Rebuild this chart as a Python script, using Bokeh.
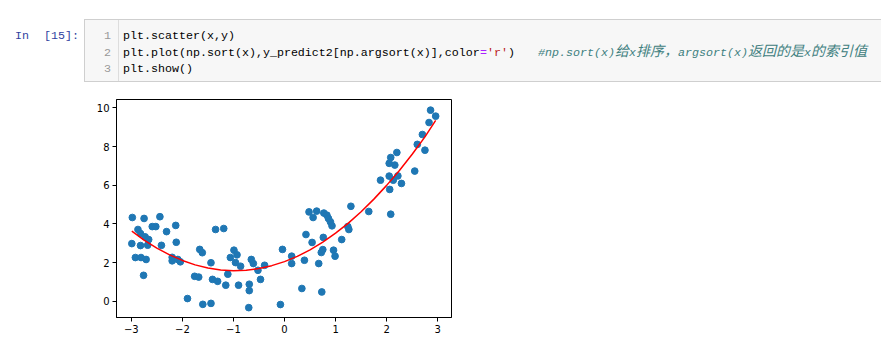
from bokeh.plotting import figure
from bokeh.layouts import column
from bokeh.models import Range1d, FixedTicker, Div
from bokeh.embed import file_html
from bokeh.resources import INLINE
from html import escape

# ---- data ----
x_vals = [-2.98, -2.75, -2.44, -2.87, -2.82, -2.59, -2.52, -2.31, -2.13, -2.99,
          -2.82, -2.73, -2.66, -2.68, -2.41, -2.12, -2.92, -2.81, -2.71, -2.76,
          -2.20, -2.20, -2.09, -2.04, -1.90, -1.76, -1.68, -1.66, -1.61, -1.60,
          -1.44, -1.44, -1.41, -1.31, -1.35, -1.19, -1.15, -1.11, -1.06, -0.99,
          -0.93, -0.96, -0.86, -0.90, -0.69, -0.69, -0.70, -0.65, -0.61, -0.52,
          -0.47, -0.39, -0.04, -0.08, 0.14, 0.14, 0.39, 0.34, 0.42, 0.48,
          0.56, 0.63, 0.54, 0.76, 0.73, 0.67, 0.72, 0.75, 0.77, 0.83,
          0.86, 0.90, 0.93, 0.96, 0.99, 1.12, 1.24, 1.26, 1.30, 1.65,
          1.88, 2.08, 2.05, 2.08, 2.20, 2.16, 2.05, 2.22, 2.13, 2.29,
          2.06, 2.55, 2.60, 2.75, 2.70, 2.83, 2.86, 2.96]
y_vals = [4.33, 4.28, 4.37, 3.71, 3.50, 3.86, 3.86, 3.60, 3.92, 2.98,
          2.88, 3.33, 3.19, 2.90, 2.89, 3.05, 2.26, 2.26, 2.16, 1.34,
          2.27, 2.09, 2.16, 2.04, 0.14, 1.29, 1.25, 2.68, 2.51, -0.16,
          1.99, -0.11, 1.13, 1.03, 3.71, 3.76, 0.83, 1.40, 2.26, 2.64,
          2.40, 2.00, 1.81, 0.83, 0.88, 0.55, -0.33, 2.16, 1.95, 1.60,
          1.13, 1.86, 2.68, -0.17, 2.33, 1.95, 2.12, 0.66, 3.45, 4.62,
          4.33, 4.66, 3.04, 3.30, 0.48, 1.95, 2.52, 2.67, 4.56, 4.45,
          4.28, 4.10, 3.90, 2.64, 2.33, 3.19, 3.86, 3.71, 4.91, 4.64,
          6.26, 4.50, 7.13, 7.43, 7.69, 7.04, 6.47, 6.48, 6.26, 6.09,
          5.78, 6.73, 8.11, 7.81, 8.62, 9.24, 9.88, 9.57]

curve_x = [-2.99, -2.75, -2.5, -2.25, -2.0, -1.75, -1.5, -1.25, -1.0, -0.75,
           -0.5, -0.25, 0.0, 0.25, 0.5, 0.75, 1.0, 1.25, 1.5, 1.75,
           2.0, 2.25, 2.5, 2.75, 2.96]
curve_y = [3.62, 3.16, 2.75, 2.40, 2.11, 1.88, 1.72, 1.62, 1.58, 1.60,
           1.69, 1.84, 2.05, 2.32, 2.66, 3.06, 3.52, 4.04, 4.63, 5.28,
           5.99, 6.76, 7.60, 8.50, 9.35]

x_ticks = [-3, -2, -1, 0, 1, 2, 3]
y_ticks = [0, 2, 4, 6, 8, 10]

prompt_in = "In"
prompt_num = "[15]:"
line_numbers = ["1", "2", "3"]
code_line1 = "plt.scatter(x,y)"
code_line2_a = "plt.plot(np.sort(x),y_predict2[np.argsort(x)],color"
code_line2_eq = "="
code_line2_str = "'r'"
code_line2_end = ")"
code_comment = "#np.sort(x)给x排序，argsort(x)返回的是x的索引值"
code_line3 = "plt.show()"

W, H_TOP, H_BOT = 881, 92, 259
LAT = "Liberation Mono"
CJK = "Noto Sans CJK SC"
CW = 7.0             # width of one half-width cell
LAT_FS = CW / 0.6    # Liberation Mono advance is 0.6 em
CJK_FS = 2 * CW      # CJK glyph = 1 em = two cells


def t(x, y, s, color, anchor="start", italic=False, font=LAT, fs=LAT_FS):
    style = (f"font-family:'{font}';font-size:{fs:.2f}px;fill:{color};"
             f"font-style:{'italic' if italic else 'normal'};white-space:pre")
    return f'<text x="{x:.1f}" y="{y}" text-anchor="{anchor}" style="{style}">{escape(s)}</text>'


def mixed(x, y, s, color, italic=False):
    """Lay out a mixed Latin / CJK string cell by cell (monospace grid)."""
    out, run, run_x, cx = [], "", x, x
    for ch in s:
        if ord(ch) < 128:
            if not run:
                run_x = cx
            run += ch
            cx += CW
        else:
            if run:
                out.append(t(run_x, y, run, color, italic=italic))
                run = ""
            out.append(t(cx, y, ch, color, italic=italic, font=CJK, fs=CJK_FS))
            cx += 2 * CW
    if run:
        out.append(t(run_x, y, run, color, italic=italic))
    return out


base = [39.0, 55.5, 72.0]
x0 = 123
n = len(code_line2_a)
parts = [
    f'<svg xmlns="http://www.w3.org/2000/svg" width="{W}" height="{H_TOP}" style="display:block">',
    f'<rect x="0" y="0" width="{W}" height="{H_TOP}" fill="#ffffff"/>',
    f'<rect x="84.5" y="19.5" width="{W}" height="62" fill="#f7f7f7" stroke="#cfcfcf" stroke-width="1"/>',
    '<line x1="118.5" y1="20" x2="118.5" y2="81" stroke="#dddddd" stroke-width="1"/>',
    t(15, base[0], prompt_in, "#303F9F"),
    t(44, base[0], prompt_num, "#303F9F"),
]
for yy, s in zip(base, line_numbers):
    parts.append(t(111, yy, s, "#999999", anchor="end"))
parts += [
    t(x0, base[0], code_line1, "#000000"),
    t(x0, base[1], code_line2_a, "#000000"),
    t(x0 + CW * n, base[1], code_line2_eq, "#AA22FF"),
    t(x0 + CW * (n + 1), base[1], code_line2_str, "#BA2121"),
    t(x0 + CW * (n + 4), base[1], code_line2_end, "#000000"),
]
parts += mixed(538, base[1], code_comment, "#408080", italic=True)
parts += [t(x0, base[2], code_line3, "#000000"), '</svg>']
header = Div(text="".join(parts), width=W, height=H_TOP, margin=0)

# ---- chart ----
p = figure(width=W, height=H_BOT, x_range=Range1d(-3.29, 3.27), y_range=Range1d(-0.84, 10.43),
           toolbar_location=None, output_backend="svg",
           min_border_left=116, min_border_right=W - 451, min_border_top=7, min_border_bottom=34,
           outline_line_color="#000000", outline_line_width=1, margin=0)
p.grid.visible = False
p.background_fill_color = "white"
p.border_fill_color = "white"

p.scatter(x_vals, y_vals, size=6.7, fill_color="#1f77b4", line_color="#1f77b4")
p.line(curve_x, curve_y, line_color="#ff0000", line_width=1.5)

for ax in (p.xaxis[0], p.yaxis[0]):
    ax.axis_line_color = "#000000"
    ax.major_tick_line_color = "#000000"
    ax.major_tick_out = 4
    ax.major_tick_in = 0
    ax.minor_tick_line_color = None
    ax.major_label_text_font = "DejaVu Sans"
    ax.major_label_text_font_size = "10px"
    ax.major_label_text_color = "#000000"
    ax.major_label_standoff = 3
p.xaxis[0].ticker = FixedTicker(ticks=x_ticks)
p.yaxis[0].ticker = FixedTicker(ticks=y_ticks)
p.xaxis[0].major_label_overrides = {t_: (str(t_).replace("-", "\u2212")) for t_ in x_ticks}

layout = column(header, p, spacing=0, margin=0)
open("out.html", "w", encoding="utf-8").write(file_html(layout, INLINE))
